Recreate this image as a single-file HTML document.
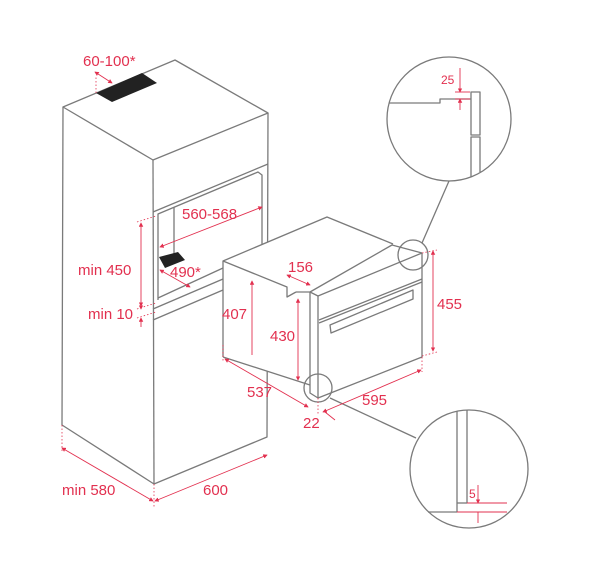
<!DOCTYPE html>
<html><head><meta charset="utf-8"><style>
html,body{margin:0;padding:0;background:#fff;}
svg{display:block;}
text{font-family:"Liberation Sans",sans-serif;fill:#e2304f;font-size:15px;}
.g{stroke:#7a7a7a;stroke-width:1.3;fill:none;stroke-linejoin:round;}
.r{stroke:#e2304f;stroke-width:0.9;fill:none;}
.rd{stroke:#e2304f;stroke-width:0.8;fill:none;stroke-dasharray:1.5 2;}
</style></head><body>
<svg width="607" height="566" viewBox="0 0 607 566" xmlns="http://www.w3.org/2000/svg">
<defs>
<marker id="a" viewBox="0 0 6 6" refX="5" refY="3" markerWidth="5" markerHeight="5" orient="auto-start-reverse"><path d="M0,0L6,3L0,6z" fill="#e2304f"/></marker>
</defs>
<polygon class="g" points="63,107 175,60 268,113 153,160"/>
<polyline class="g" points="63,107 62,425 154,484 267,437 268,113"/>
<line class="g" x1="153" y1="160" x2="154" y2="484"/>
<polygon points="96,93 142,73 157,83 112,102" fill="#222"/>
<line class="g" x1="153" y1="212" x2="268" y2="164"/>
<polyline class="g" points="158,300 158,214 258,172 262,175 262,250"/>
<line class="g" x1="174" y1="207" x2="174" y2="254"/>
<line class="g" x1="158" y1="298" x2="223" y2="268"/>
<line class="g" x1="153" y1="309" x2="223" y2="279"/>
<line class="g" x1="153" y1="320" x2="223" y2="290"/>
<polygon points="159,257 178,252 185,260 165,268" fill="#222"/>
<polygon points="223,261 327,217 393,244 310,292 310,385 223,357" fill="#fff"/>
<polyline class="g" points="223,357 223,261 327,217 393,244"/>
<polyline class="g" points="223,261 287,287 287,297 296,292"/>
<line class="g" x1="223" y1="357" x2="310" y2="385"/>
<polyline class="g" points="296,292 310,292 392,245 422,253 422,357 318,398 310,393 310,292"/>
<line class="g" x1="318" y1="296" x2="318" y2="398"/>
<line class="g" x1="310" y1="292" x2="318" y2="296"/>
<line class="g" x1="318" y1="296" x2="422" y2="253"/>
<line class="g" x1="319" y1="320" x2="422" y2="279"/>
<line class="g" x1="319" y1="323" x2="422" y2="282"/>
<polygon class="g" points="330,325 413,290 413,299 331,333"/>
<circle class="g" cx="449" cy="119" r="62"/>
<circle class="g" cx="413" cy="255" r="15"/>
<line class="g" x1="449" y1="181" x2="422" y2="243"/>
<circle class="g" cx="469" cy="469" r="59"/>
<circle class="g" cx="318" cy="388" r="14"/>
<line class="g" x1="330" y1="398" x2="416" y2="438"/>
<polyline class="g" points="389,103 440,103 440,99 471,99"/>
<rect class="g" x="471" y="92" width="9" height="43"/>
<polyline class="g" points="471,177 471,137 480,137 480,172"/>
<line class="r" x1="460" y1="68" x2="460" y2="92" marker-end="url(#a)"/>
<line class="r" x1="460" y1="110" x2="460" y2="99" marker-end="url(#a)"/>
<line class="r" x1="455" y1="92" x2="470" y2="92"/>
<line class="r" x1="455" y1="99" x2="470" y2="99"/>
<text x="441" y="84" style="font-size:12px">25</text>
<line class="g" x1="457" y1="411" x2="457" y2="512"/>
<line class="g" x1="467" y1="410" x2="467" y2="503"/>
<line class="g" x1="457" y1="503" x2="467" y2="503"/>
<line class="g" x1="428" y1="512" x2="457" y2="512"/>
<line class="r" x1="467" y1="503" x2="507" y2="503"/>
<line class="r" x1="457" y1="512" x2="507" y2="512"/>
<line class="r" x1="478" y1="485" x2="478" y2="503" marker-end="url(#a)"/>
<line class="r" x1="478" y1="512" x2="478" y2="523"/>
<text x="469" y="498" style="font-size:12px">5</text>
<line class="rd" x1="96" y1="93" x2="96" y2="76"/>
<line class="r" x1="95" y1="72" x2="112" y2="83" marker-start="url(#a)" marker-end="url(#a)"/>
<text x="83" y="66">60-100*</text>
<line class="r" x1="160" y1="247" x2="262" y2="207" marker-start="url(#a)" marker-end="url(#a)"/>
<text x="182" y="219">560-568</text>
<line class="r" x1="160" y1="270" x2="190" y2="287" marker-start="url(#a)" marker-end="url(#a)"/>
<text x="170" y="277">490*</text>
<line class="rd" x1="137" y1="222" x2="156" y2="216"/>
<line class="r" x1="141" y1="223" x2="141" y2="306" marker-start="url(#a)" marker-end="url(#a)"/>
<text x="78" y="275">min 450</text>
<line class="rd" x1="137" y1="309" x2="156" y2="303"/>
<line class="rd" x1="137" y1="318" x2="156" y2="312"/>
<line class="r" x1="141" y1="304" x2="141" y2="309" marker-end="url(#a)"/>
<line class="r" x1="141" y1="327" x2="141" y2="318" marker-end="url(#a)"/>
<text x="88" y="319">min 10</text>
<line class="r" x1="252" y1="281" x2="252" y2="355" marker-start="url(#a)"/>
<text x="222" y="319">407</text>
<line class="r" x1="298" y1="299" x2="298" y2="380" marker-start="url(#a)" marker-end="url(#a)"/>
<text x="270" y="341">430</text>
<line class="r" x1="287" y1="275" x2="310" y2="285" marker-start="url(#a)" marker-end="url(#a)"/>
<text x="288" y="272">156</text>
<line class="rd" x1="422" y1="253" x2="437" y2="250"/>
<line class="rd" x1="422" y1="356" x2="437" y2="352"/>
<line class="r" x1="433" y1="251" x2="433" y2="351" marker-start="url(#a)" marker-end="url(#a)"/>
<text x="437" y="309">455</text>
<line class="rd" x1="223" y1="345" x2="223" y2="362"/>
<line class="r" x1="225" y1="359" x2="308" y2="407" marker-start="url(#a)" marker-end="url(#a)"/>
<text x="247" y="397">537</text>
<line class="rd" x1="318" y1="398" x2="318" y2="415"/>
<line class="rd" x1="422" y1="357" x2="422" y2="372"/>
<line class="r" x1="323" y1="412" x2="421" y2="370" marker-start="url(#a)" marker-end="url(#a)"/>
<text x="362" y="405">595</text>
<line class="r" x1="325" y1="412" x2="335" y2="420"/>
<text x="303" y="428">22</text>
<line class="rd" x1="62" y1="425" x2="62" y2="452"/>
<line class="rd" x1="154" y1="484" x2="154" y2="508"/>
<line class="r" x1="62" y1="448" x2="153" y2="501" marker-start="url(#a)" marker-end="url(#a)"/>
<text x="62" y="495">min 580</text>
<line class="r" x1="155" y1="501" x2="267" y2="455" marker-start="url(#a)" marker-end="url(#a)"/>
<text x="203" y="495">600</text>
</svg>
</body></html>
